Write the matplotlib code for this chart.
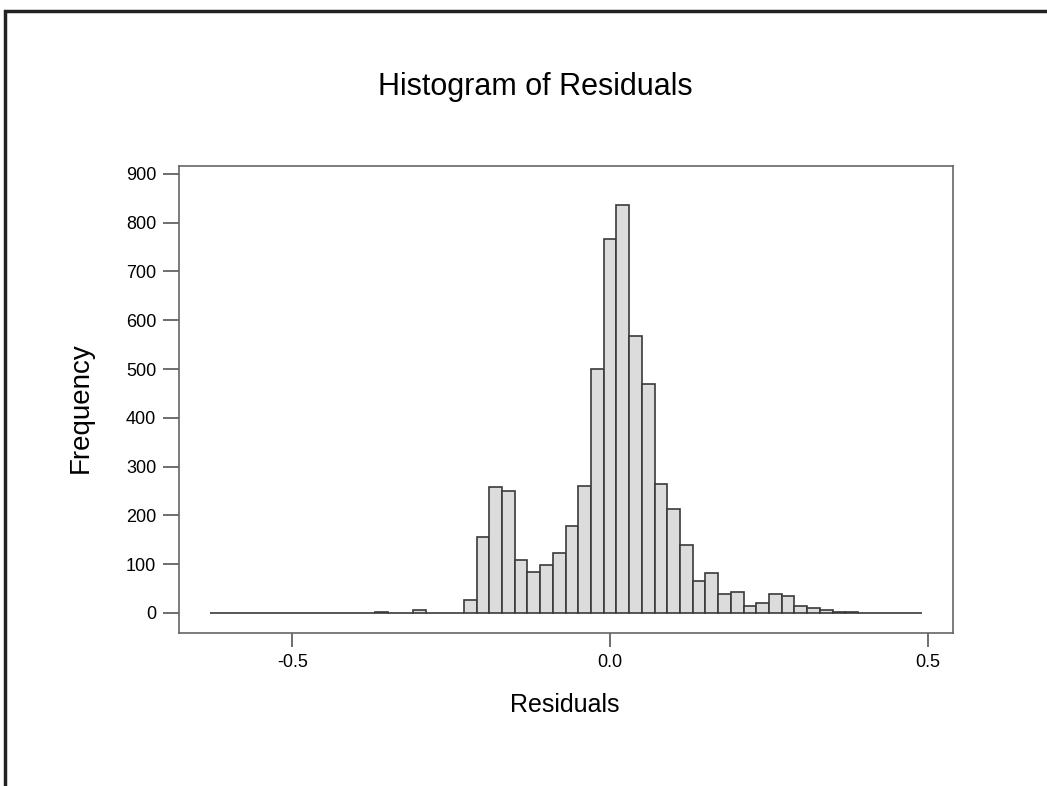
import numpy as np
import matplotlib.pyplot as plt
from matplotlib.patches import Rectangle

# bin centres step 0.02 from -0.62 to 0.48
bin_centers = np.round(np.linspace(-0.62, 0.48, 56), 2)
counts = [0, 0, 0, 0, 0, 0, 0, 0, 0, 0,
          0, 0, 0, 3, 0, 0, 7, 0, 0, 0,
          26, 155, 259, 251, 108, 83, 99, 122, 178, 261,
          500, 766, 837, 567, 470, 264, 214, 139, 65, 82,
          39, 43, 14, 20, 39, 34, 15, 11, 7, 3,
          2, 0, 0, 0, 0, 0]
bin_width = 0.02

x_ticks = [-0.5, 0.0, 0.5]
x_tick_labels = ["-0.5", "0.0", "0.5"]
y_ticks = list(range(0, 1000, 100))

plt.rcParams['font.family'] = ['Liberation Sans', 'DejaVu Sans']

fig = plt.figure(figsize=(10.47, 7.86), dpi=100)
ax = fig.add_axes([0.171, 0.195, 0.739, 0.594])

ax.bar(bin_centers, counts, width=bin_width, color="#dcdcdc",
       edgecolor="#3a3a3a", linewidth=1.2)

ax.set_xlim(-0.678, 0.539)
ax.set_ylim(-40.5, 916.5)
ax.set_xticks(x_ticks)
ax.set_xticklabels(x_tick_labels)
ax.set_yticks(y_ticks)
ax.tick_params(direction="out", width=1.2, color="#555555", labelsize=13)
ax.tick_params(axis="y", length=11.5, pad=5)
ax.tick_params(axis="x", length=10, pad=5)
for s in ax.spines.values():
    s.set_color("#666666")
    s.set_linewidth(1.2)

fig.text(0.511, 0.879, "Histogram of Residuals", ha="center", va="baseline", fontsize=22)
fig.text(0.539, 0.094, "Residuals", ha="center", va="baseline", fontsize=18)
fig.text(0.077, 0.482, "Frequency", ha="center", va="center", rotation=90, fontsize=20)

# outer frame (runs off the right and bottom edge)
fig.patches.append(Rectangle((5 / 1047, -0.1), 1.2, 1 - 11 / 786 + 0.1,
                             transform=fig.transFigure, fill=False,
                             edgecolor="#222222", linewidth=2.5))

fig.savefig("out.png", dpi=100)
